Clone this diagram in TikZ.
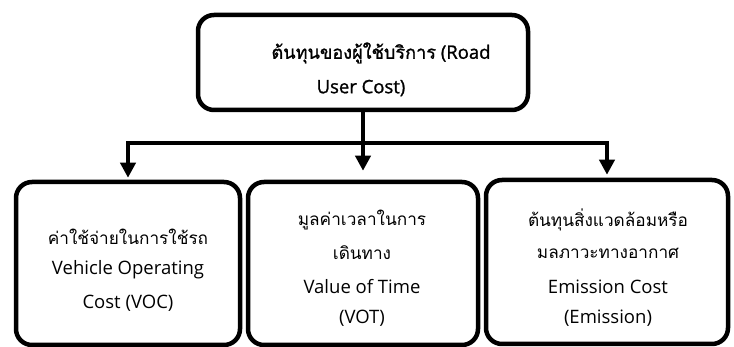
\documentclass[tikz,border=0pt]{standalone}
\usepackage{fontspec}
\setmainfont{Open Sans}
\newfontfamily\thaifont[Script=Thai,Scale=0.93]{Loma}
\newfontfamily\semifont[FakeBold=1.2]{Open Sans}
\newfontfamily\thaisemifont[Script=Thai,Scale=0.98,FakeBold=1.2]{Loma}
\newcommand{\thai}[1]{{\thaifont #1}}
\newcommand{\thaisemi}[1]{{\thaisemifont #1}}
\usetikzlibrary{arrows.meta}
\tikzset{
  box/.style={draw=black, line width=4.5pt, rounded corners=16pt, fill=white, inner sep=0pt},
  conn/.style={line width=4pt, -{Triangle[length=15pt,width=15pt]}},
  lbl/.style={font=\fontsize{18.5}{20}\selectfont, inner sep=0pt, anchor=center},
  tlbl/.style={font=\fontsize{18.5}{20}\selectfont\semifont, inner sep=0pt, anchor=center}
}
\begin{document}
\begin{tikzpicture}[x=1pt,y=-1pt]
\useasboundingbox (0,0) rectangle (734,347);
% boxes
\node[box, minimum width=330pt, minimum height=95pt] (top) at (363,62.5) {};
\node[box, minimum width=224pt, minimum height=163pt] (b1) at (128,263.5) {};
\node[box, minimum width=230pt, minimum height=163pt] (b2) at (363,263.5) {};
\node[box, minimum width=242pt, minimum height=164pt] (b3) at (607,262) {};
% top text
\node[tlbl] (t1) at (381,53) {\thaisemi{ต้นทุนของผู้ใช้บริการ} (Road};
\node[tlbl] (t2) at (361,88) {User Cost)};
% box 1 text
\node[lbl] (a1) at (128,237) {\thai{ค่าใช้จ่ายในการใช้รถ}};
\node[lbl] (a2) at (128,270) {Vehicle Operating};
\node[lbl] (a3) at (128,303) {Cost (VOC)};
% box 2 text
\node[lbl] (c1) at (362,220) {\thai{มูลค่าเวลาในการ}};
\node[lbl] (c2) at (362,253) {\thai{เดินทาง}};
\node[lbl] (c3) at (362,287) {Value of Time};
\node[lbl] (c4) at (362,318) {(VOT)};
% box 3 text
\node[lbl] (e1) at (608,220) {\thai{ต้นทุนสิ่งแวดล้อมหรือ}};
\node[lbl] (e2) at (608,253) {\thai{มลภาวะทางอากาศ}};
\node[lbl] (e3) at (608,287) {Emission Cost};
\node[lbl] (e4) at (608,318) {(Emission)};
% connectors
\coordinate (j) at (363,143);
\draw[conn, shorten >=9pt] (top.south) -- (b2.north);
\draw[conn, shorten >=2pt] (j) -| (b1.north);
\draw[conn, shorten >=3pt] (j) -| (b3.north);
\end{tikzpicture}
\end{document}
